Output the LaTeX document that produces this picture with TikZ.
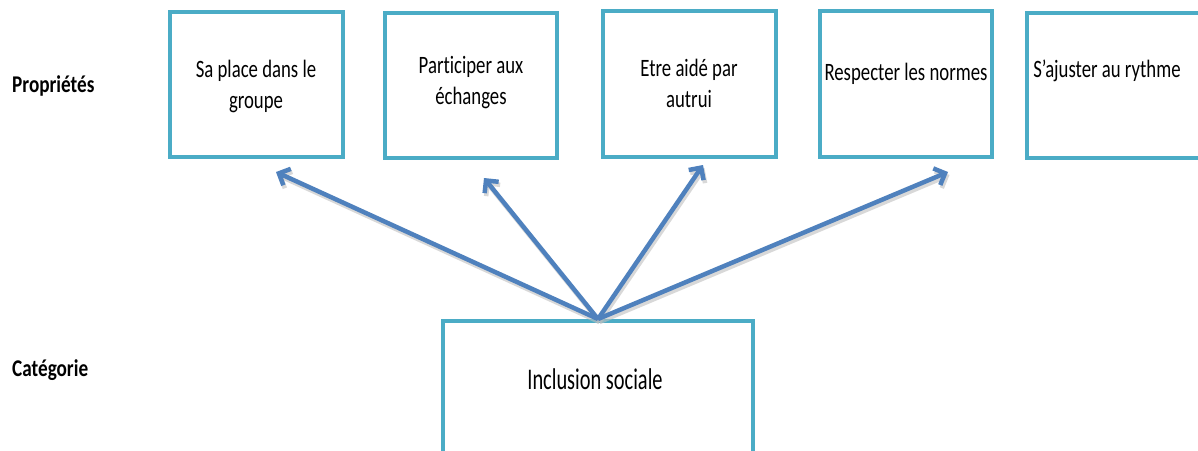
\documentclass[tikz,border=0pt]{standalone}
\usepackage{fontspec}
\setmainfont{Carlito}[Ligatures={NoCommon}]
\usetikzlibrary{arrows.meta}
\definecolor{boxline}{HTML}{4BACC6}
\definecolor{arrowblue}{HTML}{4F81BD}
\newcommand{\sqtext}[2]{\scalebox{#1}[1]{\begin{tabular}{@{}c@{}}#2\end{tabular}}}
\tikzset{
  box/.style={draw=boxline, line width=4pt, fill=white, inner sep=0pt},
  txt/.style={inner sep=0pt, font=\fontsize{25}{31}\selectfont},
  bigtxt/.style={inner sep=0pt, font=\fontsize{30}{36}\selectfont},
  lbl/.style={inner sep=0pt, anchor=west, font=\fontsize{24}{28}\selectfont\bfseries},
  arr/.style={draw=arrowblue, line width=4.5pt, -{Straight Barb[length=9pt,width=18pt,line width=4.5pt]}},
  arrshadow/.style={draw=black!25, opacity=0.6, line width=4.5pt, -{Straight Barb[length=9pt,width=18pt,line width=4.5pt]}}
}
\begin{document}
\begin{tikzpicture}[x=1pt,y=-1pt]
\useasboundingbox[fill=white] (0,0) rectangle (1198,450);
% boxes
\node[box, minimum width=173pt, minimum height=145pt] (b1) at (256.5,84.5) {};
\node[box, minimum width=172pt, minimum height=145pt] (b2) at (471,85.5) {};
\node[box, minimum width=173pt, minimum height=146pt] (b3) at (689.5,84) {};
\node[box, minimum width=172pt, minimum height=146pt] (b4) at (906,84) {};
\node[box, minimum width=193pt, minimum height=145pt] (b5) at (1123.5,85.5) {};
\node[box, minimum width=310pt, minimum height=160pt] (inc) at (598,401) {};
% texts
\node[txt] (t1) at (256,87) {\sqtext{0.75}{Sa place dans le\\groupe}};
\node[txt] (t2) at (471,83) {\sqtext{0.75}{Participer aux\\échanges}};
\node[txt] (t3) at (689,86) {\sqtext{0.75}{Etre aidé par\\autrui}};
\node[txt] (t4) at (906,74) {\sqtext{0.75}{Respecter les normes}};
\node[txt] (t5) at (1107,71) {\sqtext{0.75}{S’ajuster au rythme}};
\node[bigtxt] (ti) at (595,382) {\sqtext{0.68}{Inclusion sociale}};
\node[lbl] (lp) at (12,86) {\scalebox{0.8}[1]{Propriétés}};
\node[lbl] (lc) at (12,370) {\scalebox{0.8}[1]{Catégorie}};
% arrow ends
\coordinate (e1) at (276,172);
\coordinate (e2) at (484,178);
\coordinate (e3) at (703,165);
\coordinate (e4) at (948,172);
\coordinate (o) at (inc.north);
% shadows
\foreach \e in {e1,e2,e3,e4}{
  \draw[arrshadow] ([shift={(1.5,3)}]o) -- ([shift={(1.5,3)}]\e);
}
\foreach \e in {e1,e2,e3,e4}{
  \draw[arr] (o) -- (\e);
}
\end{tikzpicture}
\end{document}
